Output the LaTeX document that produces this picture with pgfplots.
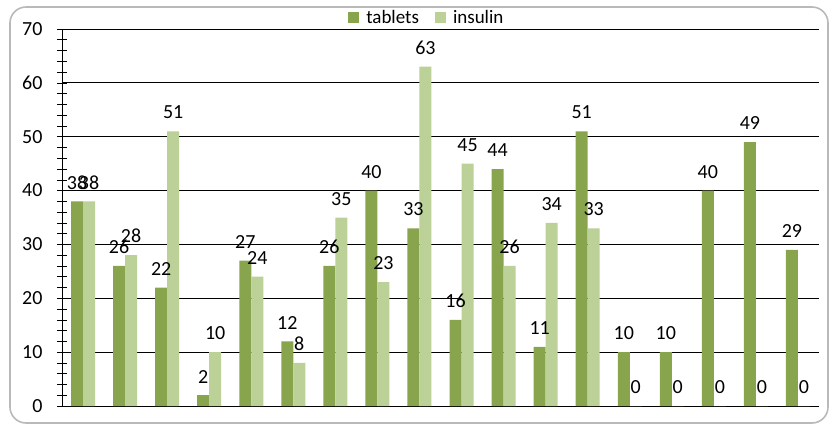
\documentclass[border=0pt]{standalone}
\usepackage{pgfplots}
\pgfplotsset{compat=1.18}
\usepackage{fontspec}
\setmainfont{Carlito}
\definecolor{tabl}{RGB}{136,165,78}
\definecolor{insu}{RGB}{187,209,151}
\begin{document}
\begin{tikzpicture}[x=1pt,y=1pt]
\path (-62,-20) rectangle (767,406);
\draw[gray!55, line width=1.6pt, rounded corners=16pt] (-52,-17) rectangle (766,399);
\begin{axis}[
  at={(0,0)}, anchor=south west,
  scale only axis, width=757pt, height=377pt,
  ybar=0pt, bar width=12pt,
  xmin=0.5, xmax=18.5, ymin=0, ymax=70,
  axis x line=bottom, axis y line=left,
  axis line style={-, black, line width=0.8pt},
  xtick=\empty,
  ytick={0,10,...,70},
  minor y tick num=4,
  tick align=center,
  major tick length=10pt, minor tick length=10pt,
  tick style={black, line width=0.6pt},
  ymajorgrids, grid style={black, line width=0.8pt},
  /pgf/number format/assume math mode=true,
  ticklabel style={font=\fontsize{20}{22}\selectfont},
  yticklabel style={xshift=-11pt},
  nodes near coords,
  nodes near coords style={font=\fontsize{20}{22}\selectfont, black, anchor=south, inner sep=0pt, yshift=12pt},
  legend columns=2,
  legend style={draw=none, fill=none, at={(0.482,1.03)}, anchor=center, column sep=5pt,
    font=\fontsize{19}{21}\selectfont},
  legend image code/.code={\fill[#1, draw=none] (0pt,-5.5pt) rectangle (11pt,5.5pt);},
]
\addplot[fill=tabl, draw=none] coordinates {
(1,38) (2,26) (3,22) (4,2) (5,27) (6,12) (7,26) (8,40) (9,33) (10,16)
(11,44) (12,11) (13,51) (14,10) (15,10) (16,40) (17,49) (18,29)};
\addplot[fill=insu, draw=none] coordinates {
(1,38) (2,28) (3,51) (4,10) (5,24) (6,8) (7,35) (8,23) (9,63) (10,45)
(11,26) (12,34) (13,33) (14,0) (15,0) (16,0) (17,0) (18,0)};
\legend{tablets\hspace*{9pt}, insulin}
\end{axis}
\end{tikzpicture}
\end{document}
